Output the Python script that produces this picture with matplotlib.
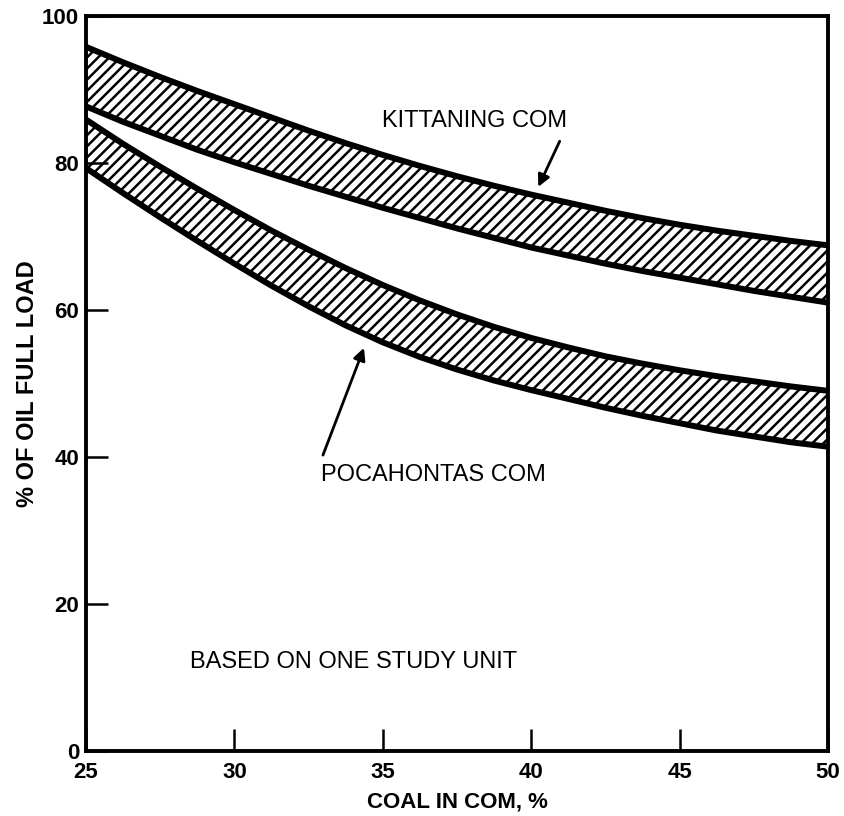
import matplotlib.pyplot as plt
import numpy as np

plt.rcParams['font.family'] = ['Liberation Sans', 'DejaVu Sans']
plt.rcParams['hatch.linewidth'] = 1.8

# coal in COM, %
coal = np.array([25, 26.25, 27.5, 28.75, 30, 31.25, 32.5, 33.75, 35, 36.25, 37.5,
                 38.75, 40, 41.25, 42.5, 43.75, 45, 46.25, 47.5, 48.75, 50])

# % of oil full load, band edges
kitt_upper = np.array([95.8, 93.7, 91.7, 89.8, 88.0, 86.2, 84.4, 82.7, 81.1, 79.6, 78.2,
                       76.9, 75.7, 74.6, 73.5, 72.5, 71.6, 70.8, 70.1, 69.4, 68.8])
kitt_lower = np.array([87.7, 85.6, 83.7, 81.8, 80.1, 78.5, 76.9, 75.4, 73.9, 72.5, 71.1,
                       69.8, 68.5, 67.4, 66.3, 65.3, 64.4, 63.5, 62.6, 61.8, 61.0])
poca_upper = np.array([85.9, 82.6, 79.5, 76.5, 73.6, 70.8, 68.2, 65.7, 63.4, 61.3, 59.4,
                       57.7, 56.2, 54.9, 53.7, 52.7, 51.8, 51.0, 50.3, 49.6, 49.0])
poca_lower = np.array([79.3, 75.9, 72.6, 69.4, 66.3, 63.3, 60.5, 57.9, 55.6, 53.6, 51.9,
                       50.4, 49.1, 47.9, 46.7, 45.6, 44.6, 43.6, 42.8, 42.0, 41.4])

xticks = [25, 30, 35, 40, 45, 50]
yticks = [0, 20, 40, 60, 80, 100]

fig = plt.figure(figsize=(8.44, 8.16), dpi=100)
ax = fig.add_axes([0.1019, 0.0797, 0.8791, 0.9007])

for lo, hi in [(kitt_lower, kitt_upper), (poca_lower, poca_upper)]:
    ax.fill_between(coal, lo, hi, facecolor='white', edgecolor='black',
                    hatch='///', linewidth=0)
    ax.plot(coal, hi, color='black', lw=4.3, solid_capstyle='butt')
    ax.plot(coal, lo, color='black', lw=4.3, solid_capstyle='butt')

ax.set_xlim(25, 50)
ax.set_ylim(0, 100)
ax.set_xticks(xticks)
ax.set_yticks(yticks)
for s in ax.spines.values():
    s.set_linewidth(2.8)
ax.tick_params(direction='in', length=16, width=1.8, labelsize=16)
ax.tick_params(axis='x', pad=8)
ax.tick_params(axis='y', pad=5)
for lab in ax.get_xticklabels() + ax.get_yticklabels():
    lab.set_fontweight('bold')

ax.set_xlabel('COAL IN COM, %', fontsize=16, fontweight='bold', labelpad=6)
ax.set_ylabel('% OF OIL FULL LOAD', fontsize=17, fontweight='bold', labelpad=2)

ax.text(38.1, 85.7, 'KITTANING COM', fontsize=17, ha='center', va='center')
ax.text(36.7, 37.6, 'POCAHONTAS COM', fontsize=17, ha='center', va='center')
ax.text(34.0, 12.1, 'BASED ON ONE STUDY UNIT', fontsize=17, ha='center', va='center')

ax.annotate('', xy=(40.2, 76.4), xytext=(41.0, 83.3),
            arrowprops=dict(arrowstyle='-|>', color='black', lw=2, mutation_scale=18))
ax.annotate('', xy=(34.4, 55.2), xytext=(32.95, 39.9),
            arrowprops=dict(arrowstyle='-|>', color='black', lw=2, mutation_scale=18))

fig.savefig('out.png', dpi=100)
